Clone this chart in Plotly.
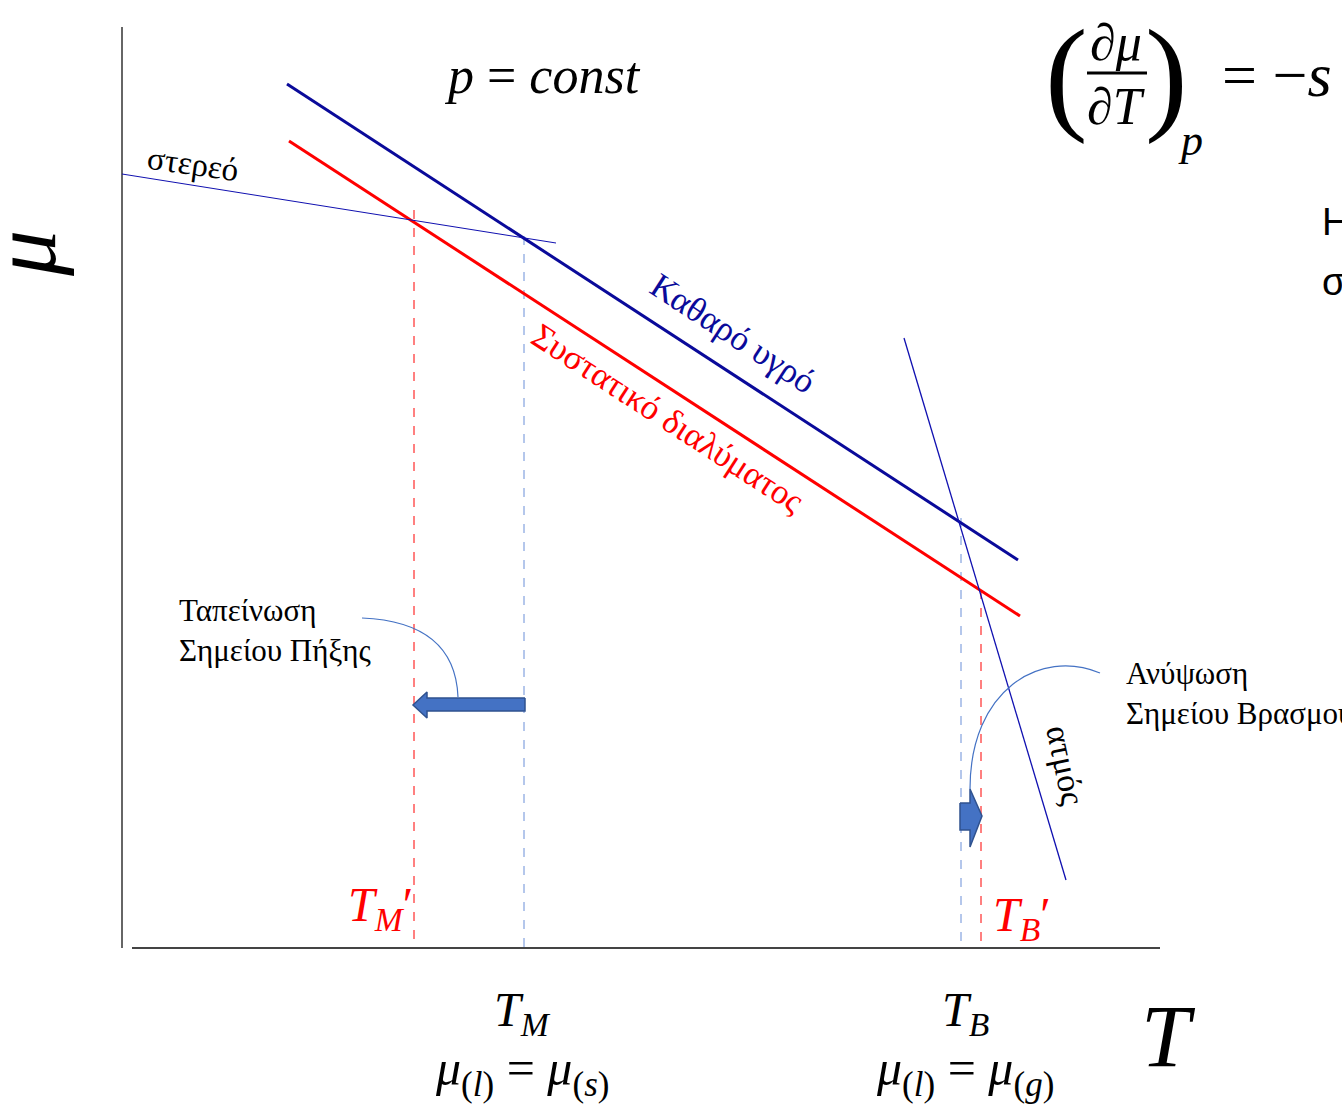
import plotly.graph_objects as go

# ---- geometry of the sketch (pixel-like coordinates, y downward) ----
W, H = 1342, 1107
axis_v = {"x": [122, 122], "y": [27, 948]}
axis_h = {"x": [132, 1160], "y": [948, 948]}
liquid_pure = {"x": [287, 1018], "y": [84, 560]}
liquid_sol = {"x": [289, 1020], "y": [141, 616]}
solid_line = {"x": [122, 556], "y": [174, 243]}
gas_line = {"x": [904, 1066], "y": [338, 880]}
dash_TMp = {"x": [414, 414], "y": [210, 948]}
dash_TM = {"x": [524, 524], "y": [236, 948]}
dash_TB = {"x": [961, 961], "y": [518, 948]}
dash_TBp = {"x": [981, 981], "y": [590, 948]}
arrow_left_x = [525, 427, 427, 413, 427, 427, 525, 525]
arrow_left_y = [698, 698, 692, 705, 718, 711, 711, 698]
arrow_right_x = [960, 970, 970, 982, 970, 970, 960, 960]
arrow_right_y = [803, 803, 789, 816, 847, 830, 830, 803]

DARKBLUE = "#0A0A9A"
RED = "#FF0000"
BLUE = "#4472C4"
BLUE_EDGE = "#2F528F"

fig = go.Figure()

def seg(d, color, width, dash="solid"):
    fig.add_trace(go.Scatter(x=d["x"], y=d["y"], mode="lines",
                             line=dict(color=color, width=width, dash=dash),
                             hoverinfo="skip", showlegend=False))

seg(axis_v, "#333333", 1.5)
seg(axis_h, "#444444", 2)
seg(dash_TMp, RED, 1, "dash")
seg(dash_TM, "#6A8FD8", 1, "dash")
seg(dash_TB, "#6A8FD8", 1, "dash")
seg(dash_TBp, RED, 1, "dash")
seg(liquid_pure, DARKBLUE, 3)
seg(liquid_sol, RED, 3)
seg(solid_line, "#1010B0", 1)
seg(gas_line, "#1010B0", 1.3)

for ax_, ay_ in [(arrow_left_x, arrow_left_y), (arrow_right_x, arrow_right_y)]:
    fig.add_trace(go.Scatter(x=ax_, y=ay_, mode="lines", fill="toself",
                             fillcolor=BLUE, line=dict(color=BLUE_EDGE, width=1.5),
                             hoverinfo="skip", showlegend=False))

shapes = [
    dict(type="path", xref="x", yref="y", path="M 362 618 Q 455 622 458 697",
         line=dict(color=BLUE, width=1.2)),
    dict(type="path", xref="x", yref="y", path="M 1100 673 C 1040 648 970 690 970 789",
         line=dict(color=BLUE, width=1.2)),
    dict(type="line", xref="x", yref="y", x0=1087, x1=1147, y0=73, y1=73,
         line=dict(color="black", width=3)),
]

SERIF = "Liberation Serif"
MATH = "Liberation Serif"
ann = []

def t(x, y, text, size, color="black", family=SERIF, angle=0, xanchor="center", align="center"):
    ann.append(dict(x=x, y=y, xref="x", yref="y", text=text, showarrow=False,
                    font=dict(size=size, color=color, family=family),
                    textangle=angle, xanchor=xanchor, yanchor="middle", align=align))

NB = "\u00a0"
t(542, 75, f"<i>p</i>{NB}={NB}<i>const</i>", 52, family=MATH)
t(1066, 74, "(", 128, family=MATH)
t(1166, 74, ")", 128, family=MATH)
t(1116, 42, "∂<i>μ</i>", 52, family=MATH)
t(1116, 106, "∂<i>T</i>", 52, family=MATH)
t(1190, 140, "<i>p</i>", 44, family=MATH)
t(1220, 75, f"={NB}−<i>s</i>", 62, family=MATH, xanchor="left")
t(1320, 222, "Η", 38, family="Liberation Sans", xanchor="left")
t(1320, 282, "σ", 38, family="Liberation Sans", xanchor="left")
t(193, 164, "στερεό", 33, angle=8)
t(733, 333, "Καθαρό υγρό", 35, color=DARKBLUE, angle=33)
t(668, 418, "Συστατικό διαλύματος", 35, color=RED, angle=33)
t(1066, 765, "ατμός", 34, angle=78)
t(177, 630, "Ταπείνωση<br>Σημείου Πήξης", 31, xanchor="left", align="left")
t(1124, 693, "Ανύψωση<br>Σημείου Βρασμού", 31, xanchor="left", align="left")
t(380, 908, "<i>T</i><sub><i>M</i></sub>′", 48, color=RED, family=MATH)
t(1022, 918, "<i>T</i><sub><i>B</i></sub>′", 48, color=RED, family=MATH)
t(522, 1013, "<i>T</i><sub><i>M</i></sub>", 48, family=MATH)
t(522, 1072, f"<i>μ</i><sub>(<i>l</i>)</sub>{NB}={NB}<i>μ</i><sub>(<i>s</i>)</sub>", 50, family=MATH)
t(965, 1013, "<i>T</i><sub><i>B</i></sub>", 48, family=MATH)
t(965, 1072, f"<i>μ</i><sub>(<i>l</i>)</sub>{NB}={NB}<i>μ</i><sub>(<i>g</i>)</sub>", 50, family=MATH)
t(1168, 1036, "<i>T</i>", 88, family=MATH)
t(24, 254, "<i>μ</i>", 92, family=MATH, angle=-90)

fig.update_layout(
    width=W, height=H, margin=dict(l=0, r=0, t=0, b=0),
    paper_bgcolor="white", plot_bgcolor="white",
    xaxis=dict(range=[0, W], visible=False, fixedrange=True),
    yaxis=dict(range=[H, 0], visible=False, fixedrange=True),
    shapes=shapes, annotations=ann, showlegend=False,
)
fig.write_html("out.html", config={"displayModeBar": False},
               post_script="document.body.style.margin='0';document.body.style.overflow='hidden';")
